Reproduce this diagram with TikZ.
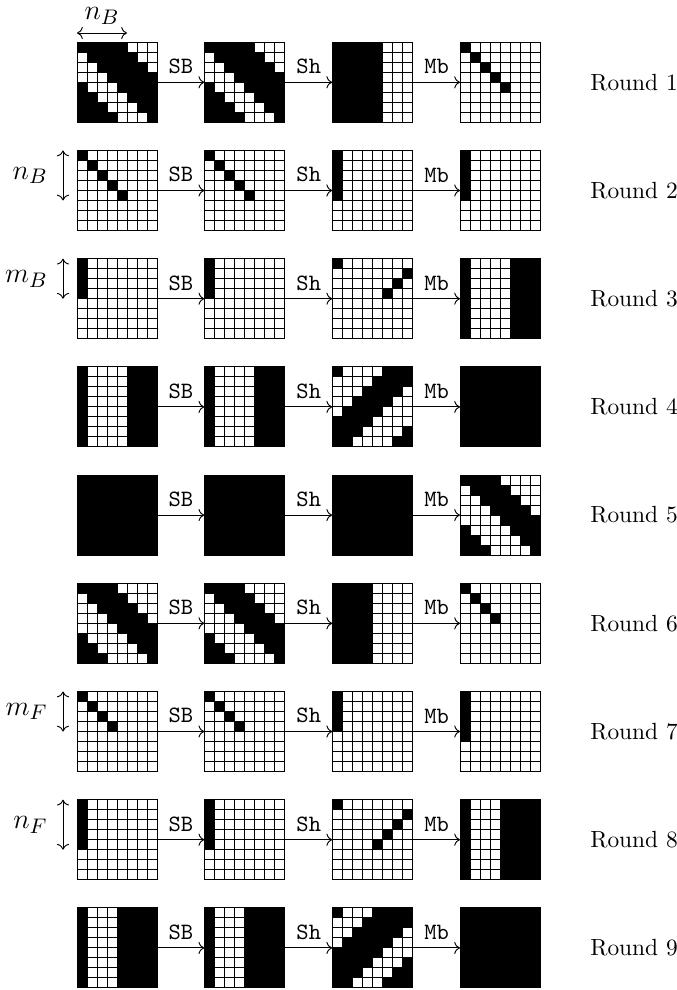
\documentclass[tikz,border=0pt]{standalone}
\usetikzlibrary{arrows.meta}
\tikzset{
  blackcell/.style={draw=black,fill=black},
  whitecell/.style={draw=black,fill=white},
  gridbox/.style={inner sep=0pt,minimum width=34.19pt,minimum height=34.19pt},
  conn/.style={->},
  oplabel/.style={above,font=\ttfamily},
  roundlabel/.style={anchor=west},
  dimarrow/.style={<->},
  dimlabel/.style={font=\fontsize{13}{15}\selectfont},
}
\newcommand\cellgrid[4]{%
  \node[gridbox] (#1) at (#2+40,#3+40) {};
  \foreach \jj in {0,...,7}{\foreach \ii in {0,...,7}{%
    \pgfmathtruncatemacro\blk{#4}%
    \ifnum\blk=1 \def\cellsty{blackcell}\else\def\cellsty{whitecell}\fi
    \draw[\cellsty] (#2+10*\jj,#3+10*\ii) rectangle ++(10,10);
  }}%
}
\newcommand\gridrow[6]{%
  \pgfmathsetmacro\toprow{42.3+108.2*(#1-1)}%
  \cellgrid{g#1a}{77}{\toprow}{#3}
  \cellgrid{g#1b}{204.8}{\toprow}{#4}
  \cellgrid{g#1c}{332.7}{\toprow}{#5}
  \cellgrid{g#1d}{460.5}{\toprow}{#6}
  \draw[conn] (g#1a) -- node[oplabel]{SB} (g#1b);
  \draw[conn] (g#1b) -- node[oplabel]{Sh} (g#1c);
  \draw[conn] (g#1c) -- node[oplabel]{Mb} (g#1d);
  \node[roundlabel] (rl#1) at (582,\toprow+40) {Round #2};
}
\begin{document}
\begin{tikzpicture}[x=0.4274pt,y=-0.4274pt]
\useasboundingbox (0,0) rectangle (676,990);
\gridrow{1}{1}{mod(\jj-\ii+8,8)<5}{mod(\jj-\ii+8,8)<5}{\jj<5}{and(\ii==\jj,\ii<5)}
\gridrow{2}{2}{and(\ii==\jj,\ii<5)}{and(\ii==\jj,\ii<5)}{and(\jj==0,\ii<5)}{and(\jj==0,\ii<5)}
\gridrow{3}{3}{and(\jj==0,\ii<4)}{and(\jj==0,\ii<4)}{and(mod(\jj+\ii,8)==0,\ii<4)}{or(\jj==0,\jj>=5)}
\gridrow{4}{4}{or(\jj==0,\jj>=5)}{or(\jj==0,\jj>=5)}{or(mod(\jj+\ii,8)==0,mod(\jj+\ii,8)>=5)}{1}
\gridrow{5}{5}{1}{1}{1}{mod(\jj-\ii+8,8)<4}
\gridrow{6}{6}{mod(\jj-\ii+8,8)<4}{mod(\jj-\ii+8,8)<4}{\jj<4}{and(\ii==\jj,\ii<4)}
\gridrow{7}{7}{and(\ii==\jj,\ii<4)}{and(\ii==\jj,\ii<4)}{and(\jj==0,\ii<4)}{and(\jj==0,\ii<5)}
\gridrow{8}{8}{and(\jj==0,\ii<5)}{and(\jj==0,\ii<5)}{and(mod(\jj+\ii,8)==0,\ii<5)}{or(\jj==0,\jj>=4)}
\gridrow{9}{9}{or(\jj==0,\jj>=4)}{or(\jj==0,\jj>=4)}{or(mod(\jj+\ii,8)==0,mod(\jj+\ii,8)>=4)}{1}
% dimension marks
\coordinate (nBl) at (77,33);
\coordinate (nBr) at (127,33);
\draw[dimarrow] (nBl) -- (nBr);
\node[dimlabel] (nBtxt) at (102,16) {$n_B$};
\coordinate (a2t) at (63,150.5);
\coordinate (a2b) at (63,200.5);
\draw[dimarrow] (a2t) -- (a2b);
\node[dimlabel,anchor=east] (l2) at (56,175.5) {$n_B$};
\coordinate (a3t) at (63,258.7);
\coordinate (a3b) at (63,298.7);
\draw[dimarrow] (a3t) -- (a3b);
\node[dimlabel,anchor=east] (l3) at (56,278.7) {$m_B$};
\coordinate (a7t) at (63,691.5);
\coordinate (a7b) at (63,731.5);
\draw[dimarrow] (a7t) -- (a7b);
\node[dimlabel,anchor=east] (l7) at (56,711.5) {$m_F$};
\coordinate (a8t) at (63,799.7);
\coordinate (a8b) at (63,849.7);
\draw[dimarrow] (a8t) -- (a8b);
\node[dimlabel,anchor=east] (l8) at (56,824.7) {$n_F$};
\end{tikzpicture}
\end{document}
